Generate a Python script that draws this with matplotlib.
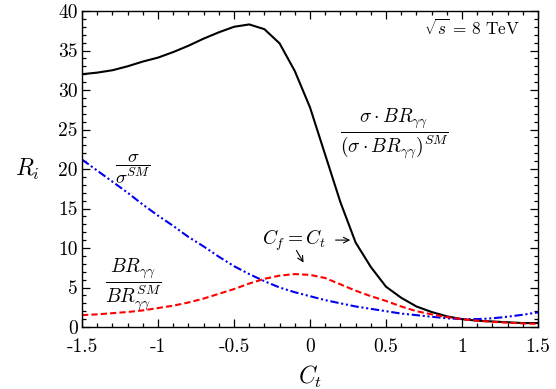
import numpy as np
import matplotlib
matplotlib.use("Agg")
import matplotlib.pyplot as plt
from matplotlib.ticker import MultipleLocator

plt.rcParams['font.family'] = 'serif'
plt.rcParams['font.serif'] = ['cmr10', 'DejaVu Serif']
plt.rcParams['mathtext.fontset'] = 'cm'
plt.rcParams['axes.unicode_minus'] = False
plt.rcParams['axes.formatter.use_mathtext'] = True

# C_t grid
ct = [-1.5, -1.4, -1.3, -1.2, -1.1, -1.0, -0.9, -0.8, -0.7, -0.6, -0.5,
      -0.4, -0.3, -0.2, -0.1, 0.0, 0.1, 0.2, 0.3, 0.4, 0.5,
      0.6, 0.7, 0.8, 0.9, 1.0, 1.1, 1.2, 1.3, 1.4, 1.5]

# sigma*BR / (sigma*BR)^SM
r_total = [32.0, 32.2, 32.5, 33.0, 33.6, 34.1, 34.8, 35.6, 36.5, 37.3, 38.0,
           38.3, 37.7, 35.9, 32.4, 27.8, 21.8, 15.8, 10.7, 7.6, 5.1,
           3.7, 2.6, 1.9, 1.35, 1.0, 0.8, 0.7, 0.6, 0.5, 0.5]

# sigma / sigma^SM
r_sigma = [21.2, 19.8, 18.4, 17.0, 15.5, 14.1, 12.8, 11.4, 10.2, 8.9, 7.7,
           6.7, 5.8, 5.0, 4.4, 3.9, 3.4, 3.0, 2.6, 2.3, 2.0,
           1.7, 1.5, 1.3, 1.1, 1.0, 1.0, 1.1, 1.3, 1.55, 1.85]

# BR_gg / BR_gg^SM
r_br = [1.5, 1.6, 1.75, 1.9, 2.1, 2.4, 2.7, 3.1, 3.6, 4.2, 4.8,
        5.5, 6.1, 6.5, 6.7, 6.6, 6.2, 5.4, 4.6, 3.9, 3.3,
        2.6, 2.0, 1.6, 1.25, 1.0, 0.8, 0.65, 0.55, 0.45, 0.4]

xticks = [-1.5, -1, -0.5, 0, 0.5, 1, 1.5]
xlabels = ['-1.5', '-1', '-0.5', '0', '0.5', '1', '1.5']
yticks = [0, 5, 10, 15, 20, 25, 30, 35, 40]

fig = plt.figure(figsize=(5.56, 3.89), dpi=100)
ax = fig.add_axes([82 / 556, 1 - 327 / 389, (538 - 82) / 556, (327 - 11) / 389])

ax.plot(ct, r_total, color='black', lw=1.5)
ax.plot(ct, r_sigma, color='#0000ee', lw=1.5, dashes=(4, 1.3, 1, 1.3, 1, 1.3))
ax.plot(ct, r_br, color='#ff0000', lw=1.5, dashes=(3, 1.5))

ax.set_xlim(-1.5, 1.5)
ax.set_ylim(0, 40)
ax.set_xticks(xticks)
ax.set_xticklabels(xlabels)
ax.set_yticks(yticks)
ax.set_yticklabels([str(v) for v in yticks])
ax.xaxis.set_minor_locator(MultipleLocator(0.1))
ax.yaxis.set_minor_locator(MultipleLocator(1))
ax.tick_params(which='both', direction='in', top=True, right=True, labelsize=14, width=0.9)
ax.tick_params(which='major', length=5.5)
ax.tick_params(which='minor', length=3)
ax.tick_params(axis='x', which='major', pad=8)
ax.tick_params(axis='y', which='major', pad=3)
for s in ax.spines.values():
    s.set_linewidth(1.0)

ax.set_xlabel(r'$C_t$', fontsize=17, labelpad=6)
ax.set_ylabel(r'$R_i$', fontsize=17, rotation=0, labelpad=22, va='center')

ax.text(1.38, 37.8, r'$\sqrt{s}\, =\, 8\ \mathrm{TeV}$', fontsize=12.4, ha='right', va='center')
ax.text(-1.164, 20.1, r'$\dfrac{\sigma}{\sigma^{SM}}$', fontsize=13.5, ha='center', va='center')
ax.text(-1.164, 5.4, r'$\dfrac{BR_{\gamma\gamma}}{BR_{\gamma\gamma}^{SM}}$', fontsize=14, ha='center', va='center')
ax.text(0.556, 24.5, r'$\dfrac{\sigma\cdot BR_{\gamma\gamma}}{(\sigma\cdot BR_{\gamma\gamma})^{SM}}$',
        fontsize=14, ha='center', va='center')
ax.text(-0.105, 11.0, r'$C_f = C_t$', fontsize=14, ha='center', va='center')
ax.annotate('', xy=(0.283, 11.0), xytext=(0.15, 11.0),
            arrowprops=dict(arrowstyle='->', lw=0.8, color='black'))
ax.annotate('', xy=(-0.033, 7.85), xytext=(-0.099, 10.0),
            arrowprops=dict(arrowstyle='->', lw=0.8, color='black'))

fig.savefig('out.png', dpi=100)
